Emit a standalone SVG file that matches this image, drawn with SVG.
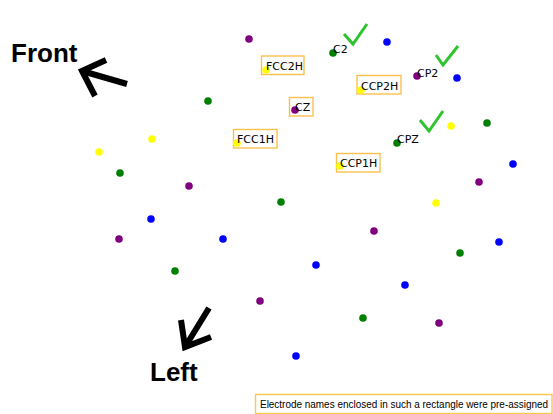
<svg xmlns="http://www.w3.org/2000/svg" width="553" height="414" viewBox="0 0 553 414">
  <style>
    .p { fill: #800080; }
    .b { fill: #0000ff; }
    .g { fill: #008000; }
    .y { fill: #ffff00; }
    .lbl { font-family: "DejaVu Sans", sans-serif; font-size: 11px; fill: #000; }
    .box { fill: none; stroke: #f9b93a; stroke-width: 1.4; stroke-opacity: 0.9; }
    .tick { fill: none; stroke: #2fc42f; stroke-width: 3; stroke-linecap: butt; stroke-linejoin: miter; }
    .dir { fill: none; stroke: #000; stroke-width: 6; stroke-linejoin: miter; stroke-miterlimit: 6; }
    .dirtxt { font-family: "Liberation Sans", Arial, sans-serif; font-weight: bold; font-size: 26px; fill: #000; }
    .note { font-family: "Liberation Sans", Arial, sans-serif; font-size: 10px; fill: #000; }
  </style>
  <defs>
    <circle id="dot" r="3.8"/>
  </defs>
  <rect width="553" height="414" fill="#fff"/>

  <!-- orientation arrows -->
  <g id="orientation">
    <text class="dirtxt" x="11" y="62">Front</text>
    <path class="dir" d="M127 84 L82 71 M106 60 L82 71 L95 96"/>
    <text class="dirtxt" x="150" y="381">Left</text>
    <path class="dir" d="M209 308 L185 347 M181 320 L185 347 L211 337"/>
  </g>

  <!-- unlabeled electrodes -->
  <g id="electrodes">
    <use href="#dot" class="p" x="249" y="39"/>
    <use href="#dot" class="b" x="387" y="42"/>
    <use href="#dot" class="b" x="457" y="78"/>
    <use href="#dot" class="g" x="208" y="101"/>
    <use href="#dot" class="g" x="487" y="123"/>
    <use href="#dot" class="y" x="451" y="126"/>
    <use href="#dot" class="y" x="152" y="139"/>
    <use href="#dot" class="y" x="99" y="152"/>
    <use href="#dot" class="b" x="513" y="164"/>
    <use href="#dot" class="g" x="120" y="173"/>
    <use href="#dot" class="p" x="479" y="182"/>
    <use href="#dot" class="p" x="189" y="186"/>
    <use href="#dot" class="g" x="281" y="202"/>
    <use href="#dot" class="y" x="436" y="203"/>
    <use href="#dot" class="b" x="151" y="219"/>
    <use href="#dot" class="p" x="374" y="231"/>
    <use href="#dot" class="p" x="119" y="239"/>
    <use href="#dot" class="b" x="223" y="239"/>
    <use href="#dot" class="b" x="499" y="242"/>
    <use href="#dot" class="g" x="460" y="253"/>
    <use href="#dot" class="b" x="316" y="265"/>
    <use href="#dot" class="g" x="175" y="271"/>
    <use href="#dot" class="b" x="405" y="285"/>
    <use href="#dot" class="p" x="260" y="301"/>
    <use href="#dot" class="g" x="363" y="318"/>
    <use href="#dot" class="p" x="439" y="323"/>
    <use href="#dot" class="b" x="296" y="356"/>
  </g>

  <!-- labeled electrodes -->
  <g id="C2">
    <use href="#dot" class="g" x="333" y="53"/>
    <text class="lbl" x="333" y="53">C2</text>
    <path class="tick" d="M344 34 L353 44 L367 24"/>
  </g>
  <g id="CP2">
    <use href="#dot" class="p" x="417" y="76"/>
    <text class="lbl" x="417" y="77">CP2</text>
    <path class="tick" d="M436 55 L443 65 L458 46"/>
  </g>
  <g id="CPZ">
    <use href="#dot" class="g" x="397" y="143"/>
    <text class="lbl" x="397" y="143">CPZ</text>
    <path class="tick" d="M420 120 L429 131 L443 111"/>
  </g>
  <g id="FCC2H">
    <rect class="box" x="261.5" y="56" width="42.5" height="18.5"/>
    <use href="#dot" class="y" x="266" y="70"/>
    <text class="lbl" x="266" y="69.5">FCC2H</text>
  </g>
  <g id="CCP2H">
    <rect class="box" x="357" y="75.5" width="44" height="18.5"/>
    <use href="#dot" class="y" x="361" y="90"/>
    <text class="lbl" x="361" y="90">CCP2H</text>
  </g>
  <g id="CZ">
    <rect class="box" x="289.5" y="97.5" width="23.5" height="18.5"/>
    <use href="#dot" class="p" x="295" y="110"/>
    <text class="lbl" x="295" y="111">CZ</text>
  </g>
  <g id="FCC1H">
    <rect class="box" x="233.5" y="129.5" width="43.5" height="18.5"/>
    <use href="#dot" class="y" x="237" y="143"/>
    <text class="lbl" x="237" y="143">FCC1H</text>
  </g>
  <g id="CCP1H">
    <rect class="box" x="336.5" y="153.5" width="43.5" height="18.5"/>
    <use href="#dot" class="y" x="340" y="166"/>
    <text class="lbl" x="340" y="166.5">CCP1H</text>
  </g>

  <!-- legend -->
  <g id="legend">
    <rect x="255.5" y="394.5" width="296.5" height="19" fill="#fff" stroke="#fcc84e" stroke-width="1.4"/>
    <text class="note" x="260" y="408" textLength="288" lengthAdjust="spacingAndGlyphs">Electrode names enclosed in such a rectangle were pre-assigned</text>
  </g>
</svg>
